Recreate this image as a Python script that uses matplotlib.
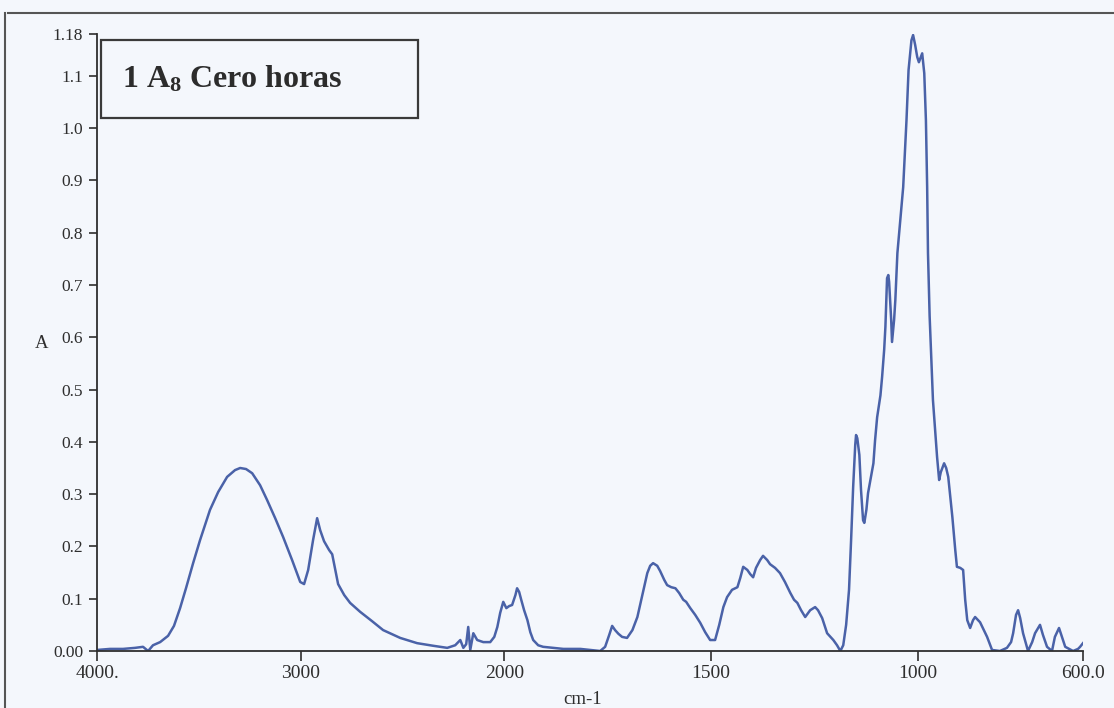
import numpy as np
import matplotlib
matplotlib.use("Agg")
import matplotlib.pyplot as plt
from matplotlib.patches import Rectangle
from matplotlib.lines import Line2D

# ---- data ----
wavenumber = [4000, 3936, 3872, 3813, 3774, 3749, 3725, 3690, 3651, 3622, 3592, 3563, 3528, 3494,
              3445, 3405, 3361, 3322, 3297, 3268, 3238, 3199, 3165, 3125, 3086, 3042, 3002, 2983,
              2963, 2939, 2919, 2904, 2885, 2860, 2845, 2830, 2816, 2786, 2757, 2708, 2649, 2595,
              2511, 2428, 2349, 2280, 2241, 2216, 2201, 2187, 2177, 2167, 2152, 2133, 2103, 2069,
              2049, 2034, 2020, 2005, 1995, 1988, 1981, 1973, 1969, 1964, 1959, 1952, 1944, 1937,
              1930, 1918, 1906, 1882, 1857, 1816, 1768, 1756, 1746, 1739, 1732, 1724, 1715, 1703,
              1690, 1678, 1666, 1654, 1647, 1640, 1630, 1623, 1613, 1606, 1596, 1586, 1577, 1567,
              1560, 1550, 1538, 1526, 1514, 1502, 1490, 1480, 1470, 1461, 1449, 1436, 1429, 1422,
              1412, 1405, 1398, 1391, 1381, 1374, 1364, 1357, 1345, 1333, 1321, 1308, 1299, 1291,
              1282, 1272, 1260, 1248, 1241, 1231, 1219, 1204, 1195, 1187, 1180, 1173, 1166, 1161,
              1156, 1151, 1149, 1146, 1141, 1137, 1132, 1129, 1124, 1120, 1112, 1107, 1103, 1098,
              1090, 1086, 1081, 1078, 1074, 1071, 1069, 1064, 1062, 1057, 1054, 1049, 1042, 1035,
              1027, 1022, 1015, 1011, 1006, 1001, 997, 989, 984, 980, 977, 975, 971, 967,
              963, 953, 948, 944, 936, 931, 926, 916, 909, 905, 897, 890, 885, 880, 873, 866, 861,
              849, 832, 820, 801, 784, 774, 769, 762, 757, 752, 745, 733, 723, 716, 704, 697, 687,
              675, 668, 658, 651, 643, 624, 612, 607, 600]
absorbance = [0.002, 0.004, 0.004, 0.006, 0.008, 0.000, 0.011, 0.017, 0.029, 0.048, 0.082, 0.120,
              0.168, 0.212, 0.270, 0.304, 0.333, 0.346, 0.350, 0.348, 0.340, 0.317, 0.289, 0.254,
              0.218, 0.174, 0.132, 0.128, 0.155, 0.212, 0.254, 0.231, 0.210, 0.193, 0.185, 0.155,
              0.128, 0.107, 0.092, 0.075, 0.057, 0.040, 0.025, 0.015, 0.010, 0.006, 0.011, 0.021,
              0.006, 0.013, 0.046, 0.002, 0.034, 0.021, 0.017, 0.017, 0.027, 0.046, 0.073, 0.094,
              0.082, 0.086, 0.088, 0.107, 0.120, 0.113, 0.098, 0.078, 0.059, 0.036, 0.021, 0.011,
              0.008, 0.006, 0.004, 0.004, 0.000, 0.008, 0.031, 0.048, 0.040, 0.033, 0.027, 0.025,
              0.040, 0.065, 0.107, 0.149, 0.163, 0.168, 0.163, 0.153, 0.136, 0.126, 0.122, 0.120,
              0.111, 0.098, 0.094, 0.082, 0.069, 0.054, 0.036, 0.021, 0.021, 0.050, 0.084, 0.103,
              0.117, 0.122, 0.140, 0.161, 0.155, 0.147, 0.141, 0.159, 0.174, 0.182, 0.174, 0.166,
              0.159, 0.149, 0.132, 0.111, 0.098, 0.092, 0.078, 0.065, 0.078, 0.084, 0.078, 0.063,
              0.034, 0.021, 0.011, 0.000, 0.011, 0.050, 0.117, 0.212, 0.314, 0.394, 0.413, 0.407,
              0.375, 0.308, 0.250, 0.245, 0.270, 0.302, 0.337, 0.359, 0.403, 0.447, 0.489, 0.524,
              0.576, 0.620, 0.713, 0.719, 0.706, 0.633, 0.591, 0.633, 0.671, 0.761, 0.824, 0.887,
              1.015, 1.111, 1.168, 1.178, 1.159, 1.136, 1.126, 1.143, 1.105, 1.015, 0.887, 0.761,
              0.640, 0.560, 0.480, 0.371, 0.327, 0.342, 0.359, 0.350, 0.333, 0.256, 0.193, 0.161,
              0.159, 0.155, 0.098, 0.059, 0.044, 0.059, 0.065, 0.055, 0.027, 0.002, 0.000, 0.006,
              0.017, 0.034, 0.069, 0.078, 0.063, 0.034, 0.000, 0.017, 0.034, 0.050, 0.031, 0.008,
              0.000, 0.027, 0.044, 0.027, 0.008, 0.000, 0.004, 0.008, 0.015]

x_ticks = [4000, 3000, 2000, 1500, 1000, 600]
x_tick_labels = ["4000.", "3000", "2000", "1500", "1000", "600.0"]
y_ticks = [0.0, 0.1, 0.2, 0.3, 0.4, 0.5, 0.6, 0.7, 0.8, 0.9, 1.0, 1.1, 1.18]
y_tick_labels = ["0.00", "0.1", "0.2", "0.3", "0.4", "0.5", "0.6", "0.7", "0.8", "0.9",
                 "1.0", "1.1", "1.18"]
title_main = "1 A$_\\mathbf{8}$ Cero horas"
x_label = "cm-1"
y_label = "A"

# ---- style ----
plt.rcParams['font.family'] = ['Liberation Serif', 'DejaVu Serif']
plt.rcParams['mathtext.fontset'] = 'custom'
plt.rcParams['mathtext.rm'] = 'Liberation Serif:bold'
plt.rcParams['mathtext.bf'] = 'Liberation Serif:bold'
plt.rcParams['mathtext.it'] = 'Liberation Serif:bold'

BG = '#f4f7fc'
LINE = '#4a62a8'
INK = '#2e2e2e'

W, H = 1114, 708
fig = plt.figure(figsize=(W / 100, H / 100), dpi=100, facecolor=BG)
ax = fig.add_axes([97 / W, 1 - 651 / H, 986 / W, 617 / H], facecolor=BG)

# FTIR double scale: 2000-600 region expanded
K = 2.03
def fwd(x):
    x = np.asarray(x, dtype=float)
    return np.where(x >= 2000, x, 2000 - K * (2000 - x))
def inv(y):
    y = np.asarray(y, dtype=float)
    return np.where(y >= 2000, y, 2000 - (2000 - y) / K)
ax.set_xscale('function', functions=(fwd, inv))

ax.plot(wavenumber, absorbance, color=LINE, lw=1.8, solid_joinstyle='round')
ax.set_xlim(4000, 600)
ax.set_ylim(0, 1.18)

ax.set_xticks(x_ticks)
ax.set_xticklabels(x_tick_labels)
ax.set_yticks(y_ticks)
ax.set_yticklabels(y_tick_labels)
ax.minorticks_off()
ax.tick_params(axis='x', direction='out', length=7, width=1.2, colors=INK, labelsize=14, pad=3)
ax.tick_params(axis='y', direction='out', length=6, width=1.2, colors=INK, labelsize=12.5, pad=4)
for s in ('top', 'right'):
    ax.spines[s].set_visible(False)
for s in ('left', 'bottom'):
    ax.spines[s].set_color(INK)
    ax.spines[s].set_linewidth(1.3)

ax.set_xlabel(x_label, fontsize=13.5, color=INK)
ax.xaxis.set_label_coords(0.492, -0.065)
ax.set_ylabel(y_label, fontsize=13.5, color=INK, rotation=0, labelpad=0)
ax.yaxis.set_label_coords(-0.056, 0.485)

# title box
ax.add_patch(Rectangle((0.004, 0.864), 0.322, 0.126, transform=ax.transAxes,
                       facecolor='none', edgecolor='#3a3a3a', lw=1.6, clip_on=False))
ax.text(0.025, 0.927, title_main, transform=ax.transAxes, fontsize=23, fontweight='bold',
        color='#2c2c2c', va='center', ha='left')

# scanned page frame lines
fig.add_artist(Line2D([8 / W, 1.0], [1 - 13 / H, 1 - 13 / H], transform=fig.transFigure,
                      color='#555555', lw=1.5))
fig.add_artist(Line2D([5 / W, 5 / W], [0, 1 - 13 / H], transform=fig.transFigure,
                      color='#555555', lw=1.5))

fig.savefig('out.png', dpi=100, facecolor=BG)
